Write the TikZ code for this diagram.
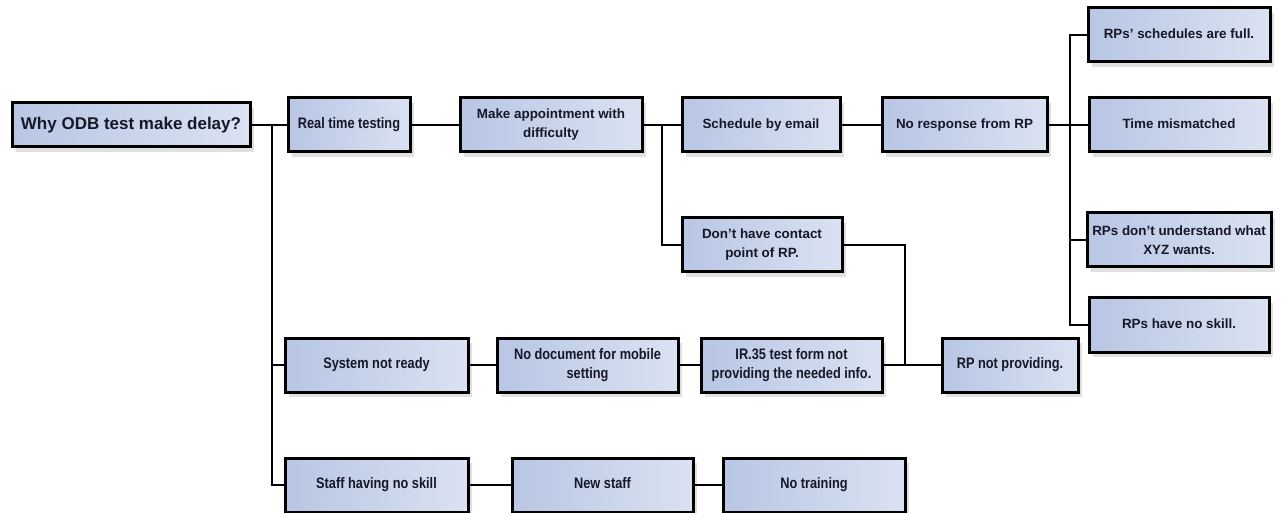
\documentclass[tikz,border=0pt]{standalone}
\usepackage{fontspec}
\setmainfont{Liberation Sans}
\newfontfamily\narrowfont{Liberation Sans}[FakeStretch=0.84]
\usetikzlibrary{shadows}
\definecolor{boxL}{RGB}{184,198,228}
\definecolor{boxR}{RGB}{218,226,242}
\definecolor{inktxt}{RGB}{22,24,40}
\tikzset{
  cause/.style={draw=black, line width=3pt, left color=boxL, right color=boxR,
    text=inktxt, font=\bfseries\fontsize{13.4}{19}\selectfont, align=center,
    inner sep=1pt, minimum height=54pt,
    drop shadow={shadow xshift=4pt, shadow yshift=-5pt, fill=black!30, opacity=0.4}},
  narrow/.style={font=\narrowfont\bfseries\fontsize{15.2}{19}\selectfont},
  oneline/.style={text height=11pt, text depth=3.5pt},
  link/.style={draw=black, line width=1.8pt}
}
\begin{document}
\begin{tikzpicture}[x=1pt, y=-1pt]
\useasboundingbox (0,0) rectangle (1286,513);
\fill[white] (0,0) rectangle (1286,513);

% main question
\node[cause, minimum width=238pt, minimum height=44pt,
      font=\bfseries\fontsize{17}{20}\selectfont] (root) at (131,125) {Why ODB test make delay?};

% first row
\node[cause, narrow, oneline, minimum width=122pt] (rtt) at (349,125) {Real time testing};
\node[cause, minimum width=182pt] (appt) at (551,125) {Make appointment with\\difficulty};
\node[cause, oneline, minimum width=158pt] (email) at (761,125) {Schedule by email};
\node[cause, oneline, minimum width=165pt] (noresp) at (964.5,125) {No response from RP};

% right column
\node[cause, oneline, minimum width=182pt] (full) at (1179,35) {RPs' schedules are full.};
\node[cause, oneline, minimum width=180pt] (mism) at (1179,125) {Time mismatched};
\node[cause, minimum width=184pt] (underst) at (1179,240) {RPs don't understand what\\XYZ wants.};
\node[cause, oneline, minimum width=180pt] (noskill) at (1179,325) {RPs have no skill.};

% contact branch
\node[cause, minimum width=160pt] (contact) at (762,245) {Don't have contact\\point of RP.};

% system row
\node[cause, narrow, oneline, minimum width=183pt] (sysnr) at (376.5,365) {System not ready};
\node[cause, narrow, minimum width=181pt] (nodoc) at (587.5,365) {No document for mobile\\setting};
\node[cause, narrow, minimum width=181pt] (ir35) at (791.5,365) {IR.35 test form not\\providing the needed info.};
\node[cause, narrow, oneline, minimum width=136pt] (rpnp) at (1010,365) {RP not providing.};

% staff row
\node[cause, narrow, oneline, minimum width=183pt] (staff) at (376.5,485) {Staff having no skill};
\node[cause, narrow, oneline, minimum width=181pt] (newst) at (602.5,485) {New staff};
\node[cause, narrow, oneline, minimum width=182pt] (notrain) at (814,485) {No training};

% junction points
\coordinate (j1) at (272,125);
\coordinate (j2) at (662,125);
\coordinate (j3) at (1070,125);
\coordinate (j4) at (905,365);

% connectors
\draw[link] (root.east) -- (rtt.west);
\draw[link] (j1) |- (sysnr.west);
\draw[link] (j1) |- (staff.west);
\draw[link] (rtt.east) -- (appt.west);
\draw[link] (appt.east) -- (email.west);
\draw[link] (j2) |- (contact.west);
\draw[link] (email.east) -- (noresp.west);
\draw[link] (noresp.east) -- (mism.west);
\draw[link] (full.west) -| (j3);
\draw[link] (j3) |- (noskill.west);
\draw[link] (j3 |- underst.west) -- (underst.west);
\draw[link] (contact.east) -| (j4);
\draw[link] (sysnr.east) -- (nodoc.west);
\draw[link] (nodoc.east) -- (ir35.west);
\draw[link] (ir35.east) -- (rpnp.west);
\draw[link] (staff.east) -- (newst.west);
\draw[link] (newst.east) -- (notrain.west);
\end{tikzpicture}
\end{document}
